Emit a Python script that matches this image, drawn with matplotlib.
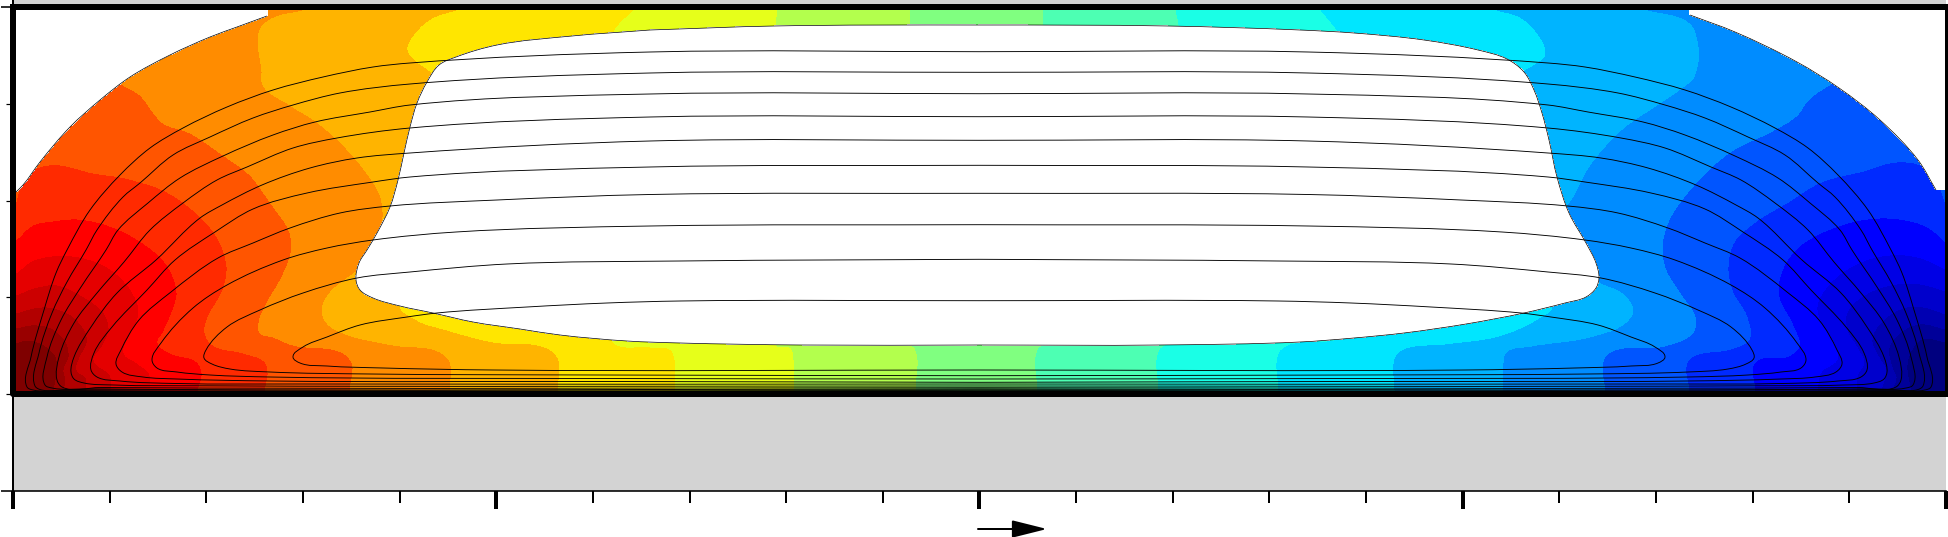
import numpy as np
import matplotlib
matplotlib.use('Agg')
import matplotlib.pyplot as plt
from matplotlib.path import Path
from matplotlib.patches import PathPatch

# everything, in pixels of the 1949x537 image
colors = ['#7f0000', '#990000', '#b20000', '#cc0000', '#e50000', '#ff0000', '#ff2a00', '#ff5500',
          '#ff8c00', '#ffb400', '#ffe600', '#e6ff1a', '#b3ff4d', '#80ff80', '#4dffb3', '#1affe6',
          '#00e6ff', '#00b4ff', '#008cff', '#0055ff', '#002aff', '#0000ff', '#0000e5', '#0000cc',
          '#0000b2', '#000099', '#00007f']

# band edges, left to right: each one has the next colour on its right
edge_01 = [(16,343),(27,340),(44,345),(56,357),(57,373),(54,391)]
edge_02 = [(16,328),(31,325),(51,328),(66,342),(69,357),(64,370),(66,380),(64,391)]
edge_03 = [(16,313),(34,308),(47,307),(71,315),(86,333),(87,343),(79,360),(77,370),(86,378),(86,391)]
edge_04 = [(16,295),(34,288),(57,285),(84,297),(104,313),(109,330),(102,347),(94,360),(110,375),(112,391)]
edge_05 = [(16,273),(34,260),(72,256),(107,267),(131,290),(139,313),(129,337),(124,353),(137,363),(149,373),(150,391)]
edge_06 = [(16,240),(33,225),(53,221),(77,219),(107,225),(143,243),(167,265),(177,293),(173,310),(163,333),
           (158,343),(170,353),(197,362),(202,373),(198,391)]
edge_07 = [(16,202),(19,190),(25,175),(43,166),(60,165),(93,173),(120,177),(133,180),(163,190),(193,210),
           (217,237),(227,267),(223,290),(207,320),(205,333),(213,345),(243,353),(265,362),(268,373),(265,391)]
edge_08 = [(115,80),(123,85),(140,95),(153,112),(163,123),(190,133),(223,155),(250,175),(270,202),(290,233),
           (291,253),(282,277),(265,307),(259,323),(260,333),(273,337),(293,345),(343,353),(352,363),(350,391)]
edge_09 = [(307,10),(270,20),(260,30),(262,72),(263,85),(290,105),(317,122),(343,145),(363,168),(380,195),
           (383,217),(378,240),(365,258),(358,270),(345,280),(330,293),(322,310),(327,323),(343,333),(393,345),
           (440,352),(450,362),(450,391)]
edge_10 = [(460,10),(431,20),(410,42),(408,50),(415,60),(431,72),(450,100),(450,290),(400,304),(417,320),
           (447,330),(493,342),(547,348),(558,358),(558,391)]
edge_11 = [(634,10),(614,32),(612,40),(612,335),(613,342),(650,347),(671,350),(675,360),(675,391)]
edge_12 = [(778,10),(776,26),(776,345),(791,348),(794,360),(795,391)]
edge_13 = [(911,10),(911,345),(915,348),(916,391)]
edge_14 = [(1043,10),(1043,345),(1038,350),(1038,391)]
edge_15 = [(1176,10),(1179,25),(1179,340),(1168,345),(1160,350),(1159,391)]
edge_16 = [(1321,10),(1339,32),(1345,40),(1345,335),(1300,343),(1286,347),(1279,354),(1279,391)]
edge_17 = [(1497,10),(1520,17),(1535,30),(1545,47),(1545,57),(1535,65),(1520,75),(1510,90),(1540,290),(1553,307),
           (1538,320),(1499,337),(1445,345),(1404,350),(1396,357),(1395,391)]
edge_18 = [(1648,10),(1686,20),(1695,30),(1695,77),(1681,90),(1656,107),(1623,130),(1590,167),(1574,197),(1567,210),
           (1580,240),(1590,263),(1598,280),(1623,293),(1634,310),(1627,323),(1590,338),(1532,347),(1507,353),
           (1504,363),(1504,391)]
edge_19 = [(1850,75),(1835,83),(1810,100),(1797,117),(1773,132),(1731,153),(1694,187),(1669,223),(1663,250),
           (1667,270),(1681,293),(1696,317),(1694,333),(1665,347),(1611,353),(1604,362),(1606,391)]
edge_20 = [(1945,205),(1935,180),(1922,167),(1897,163),(1864,172),(1822,183),(1789,203),(1756,223),(1735,243),
           (1729,267),(1733,290),(1748,317),(1750,340),(1731,350),(1694,357),(1688,363),(1690,391)]
edge_21 = [(1945,243),(1930,230),(1914,223),(1880,219),(1839,227),(1797,250),(1781,277),(1780,297),(1793,323),
           (1800,347),(1789,357),(1756,363),(1756,391)]
edge_22 = [(1945,270),(1917,258),(1890,256),(1857,265),(1830,285),(1818,307),(1822,322),(1835,343),(1838,360),
           (1822,373),(1818,391)]
edge_23 = [(1945,292),(1920,285),(1897,285),(1867,295),(1848,313),(1848,330),(1858,347),(1865,363),(1858,377),(1858,391)]
edge_24 = [(1945,315),(1923,308),(1907,308),(1883,322),(1873,340),(1880,357),(1887,370),(1882,391)]
edge_25 = [(1945,330),(1920,325),(1903,332),(1890,348),(1893,367),(1897,377),(1893,391)]
edge_26 = [(1945,343),(1923,340),(1913,350),(1908,365),(1912,391)]
edges = [edge_01, edge_02, edge_03, edge_04, edge_05, edge_06, edge_07, edge_08, edge_09, edge_10, edge_11, edge_12, edge_13,
         edge_14, edge_15, edge_16, edge_17, edge_18, edge_19, edge_20, edge_21, edge_22, edge_23, edge_24, edge_25, edge_26]

# empty regions
corner_left = [(267,16),(237,27),(210,37),(170,55),(130,77),(100,100),(70,127),(40,162),(23,185),(16,192)]
corner_right = [(1690,15),(1735,32),(1797,62),(1839,88),(1880,120),(1918,160),(1936,190)]
hole = [(650,30),(572,36),(497,45),(456,57),(439,65),(427,82),(417,103),(410,127),(404,153),(398,180),(390,207),
        (377,233),(367,250),(359,263),(356,280),(360,290),(373,298),(400,306),(433,313),(473,322),(520,329),(560,335),
        (627,341),(680,343),(800,345),(979,345),(1160,345),(1300,342),(1354,338),(1404,333),(1466,324),(1524,313),(1565,303),
        (1586,297),(1596,288),(1599,278),(1596,263),(1586,243),(1569,213),(1557,177),(1549,140),(1542,113),(1534,90),
        (1524,72),(1507,59),(1478,50),(1424,40),(1354,33),(1300,30),(1168,26),(977,25),(774,26),(650,30)]

# streamlines, left half only: bottom centre, round the left end, top centre
line_01 = [(979,390.4),(60,390.4),(33,390),(27,387),(31,357),(44,310),(56,273),(67,250),(90,210),(120,175),(150,148),(183,128),
           (227,107),(273,90),(323,77),(373,67),(410,63),(650,52),(979,51.7)]
line_02 = [(979,389.7),(70,389.7),(40,389.5),(35,386),(39,353),(52,313),(67,282),(86,250),(97,230),(123,197),(140,183),(173,155),
           (210,137),(253,118),(293,105),(340,93),(410,84),(650,73),(979,72.3)]
line_03 = [(979,388.8),(90,388.8),(52,388),(45,385),(47,357),(61,320),(81,287),(106,250),(118,230),(148,203),(180,178),(223,156),
           (273,135),(315,122),(370,112),(410,105),(650,94),(979,93.7)]
line_04 = [(979,387.7),(100,387.5),(62,387),(57,380),(59,357),(74,323),(97,293),(124,262),(150,230),(183,203),(217,180),(247,167),
           (293,148),(337,138),(410,128),(650,117),(979,116.7)]
line_05 = [(979,386),(200,385.8),(114,385),(84,383),(74,379),(71,372),(74,357),(91,327),(117,293),(156,260),(200,218),(222,205),
           (262,185),(310,168),(357,158),(410,153),(650,141),(979,140.3)]
line_06 = [(979,384),(300,384),(177,383.5),(120,381),(97,377),(91,370),(94,353),(112,327),(147,290),(175,260),(215,232),(253,209),
           (307,193),(373,182),(410,177),(650,167),(979,165.3)]
line_07 = [(979,382.3),(600,381.5),(270,381),(177,379),(143,377),(122,372),(116,364),(121,350),(139,320),(171,292),(218,258),(253,243),
           (290,228),(340,213),(390,206),(497,200),(650,194.5),(979,193.3)]
line_08 = [(979,379),(600,378.5),(270,377),(210,375),(177,372),(157,368),(152,360),(161,343),(193,308),(227,285),(283,260),(327,248),
           (373,240),(456,232),(650,226),(979,224.7)]
line_09 = [(979,375.7),(600,375),(370,374),(270,372),(230,369),(212,364),(204,358),(206,350),(227,327),(260,310),(303,293),
           (357,278),(410,272),(507,264),(680,261),(979,259.3)]
line_10 = [(979,370),(493,370),(383,368),(327,366),(300,363),(293,357),(303,347),(327,337),(360,325),(407,317),(437,313),
           (527,307),(607,303),(680,301),(979,300.7)]
lines = [line_01, line_02, line_03, line_04, line_05, line_06, line_07, line_08, line_09, line_10]
mirror_x = 1958

x_major = [13, 496.3, 979.5, 1462.8, 1946]
x_minor = [109.6, 206.3, 303, 399.6, 593, 689.6, 786.3, 883, 1076.1, 1172.8, 1269.4, 1366.1, 1559.4, 1656.1, 1752.7, 1849.4]
y_major = [7, 491]
y_minor = [104, 201, 297.3, 394.3]

L, R, T, B = 16, 1945, 10, 391
frame_x = [13, 1947.7, 1947.7, 13, 13]
frame_y = [7, 7, 393.7, 393.7, 7]
arrow_start = (978, 529)
arrow_end = (1047, 529)

px = 0.72  # one pixel in points at dpi 100


def curve(pts):
    # bezier path through the read points
    pts = np.array(pts, dtype=float)
    seg = pts[1:] - pts[:-1]
    n = np.linalg.norm(seg, axis=1, keepdims=True)
    u = seg / n
    d = np.zeros_like(pts)
    d[1:-1] = u[:-1] + u[1:]
    d[0], d[-1] = u[0], u[-1]
    d = d / np.linalg.norm(d, axis=1, keepdims=True)
    verts, codes = [pts[0]], [Path.MOVETO]
    for i in range(len(pts) - 1):
        h = n[i] / 3
        verts += [pts[i] + d[i]*h, pts[i+1] - d[i+1]*h, pts[i+1]]
        codes += [Path.CURVE4]*3
    return verts, codes


def closed(pts, extra):
    verts, codes = curve(pts)
    verts += [np.array(p, dtype=float) for p in extra] + [verts[0]]
    codes += [Path.LINETO]*len(extra) + [Path.CLOSEPOLY]
    return Path(verts, codes)


fig = plt.figure(figsize=(19.49, 5.37), dpi=100)
ax = fig.add_axes([13/1949, 1 - 491/537, (1946 - 13)/1949, 491/537])
ax.set_xlim(13, 1946)
ax.set_ylim(491, 0)
ax.set_facecolor('#d3d3d3')

# paint from the left, every band covers all that lies right of its edge
ax.fill([L, R, R, L], [T, T, B, B], color=colors[0], lw=0, antialiased=False)
for edge, c in zip(edges, colors[1:]):
    ax.add_patch(PathPatch(closed(edge, [(R, B), (R, T), (edge[0][0], T)]), facecolor=c, lw=0, antialiased=False))

ax.add_patch(PathPatch(closed(corner_left, [(L, T), (268, T)]), facecolor='white', edgecolor='none', lw=0, antialiased=False))
ax.add_patch(PathPatch(closed(corner_right, [(R, 190), (R, T), (1689, T)]), facecolor='white', edgecolor='none', lw=0, antialiased=False))
ax.add_patch(PathPatch(closed(hole, []), facecolor='white', edgecolor='none', lw=0, antialiased=False))
for region in [corner_left, corner_right, hole]:
    verts, codes = curve(region)
    ax.add_patch(PathPatch(Path(verts, codes), facecolor='none', edgecolor='black', lw=0.7*px))

for line in lines:
    pts = np.array(line, dtype=float)
    verts, codes = curve(pts)
    ax.add_patch(PathPatch(Path(verts, codes), facecolor='none', edgecolor='black', lw=0.9*px))
    verts, codes = curve(np.column_stack([mirror_x - pts[:, 0], pts[:, 1]]))
    ax.add_patch(PathPatch(Path(verts, codes), facecolor='none', edgecolor='black', lw=0.9*px))

ax.plot(frame_x, frame_y, color='black', lw=6*px, clip_on=False, solid_capstyle='projecting', zorder=5)

for side in ['top', 'right']:
    ax.spines[side].set_visible(False)
ax.spines['left'].set_linewidth(2*px)
ax.spines['bottom'].set_linewidth(1.6*px)

ax.set_xticks(x_major)
ax.set_xticks(x_minor, minor=True)
ax.set_yticks(y_major)
ax.set_yticks(y_minor, minor=True)
ax.set_xticklabels([])
ax.set_yticklabels([])
ax.tick_params(axis='x', which='major', length=18*px, width=4*px)
ax.tick_params(axis='x', which='minor', length=12*px, width=2*px)
ax.tick_params(axis='y', which='major', length=12*px, width=1.6*px)
ax.tick_params(axis='y', which='minor', length=7*px, width=1.2*px)

ax.annotate('', xy=arrow_end, xytext=arrow_start, annotation_clip=False,
            arrowprops=dict(arrowstyle='-|>,head_length=%f,head_width=%f' % (30*px, 7.5*px), mutation_scale=1,
                            color='black', lw=2*px, shrinkA=0, shrinkB=0))

fig.savefig('out.png', dpi=100)
